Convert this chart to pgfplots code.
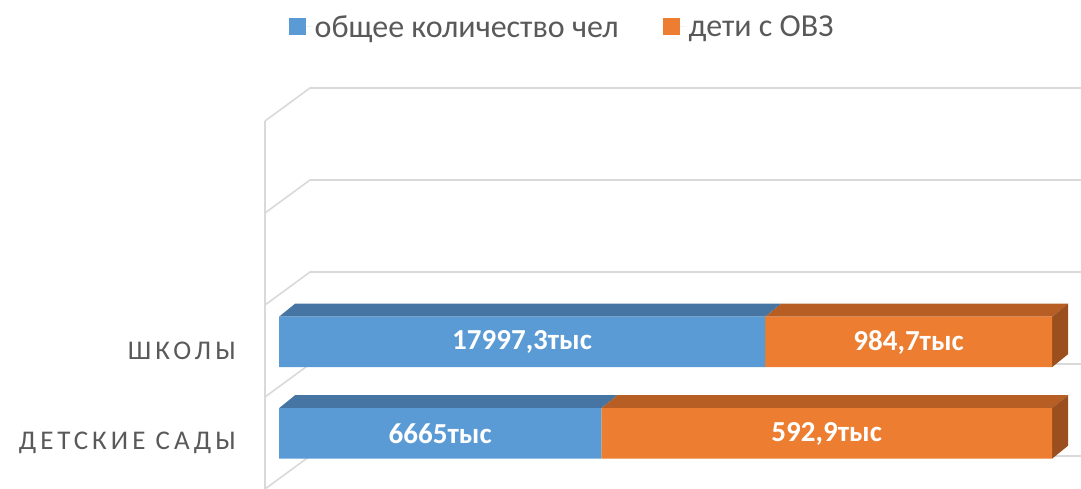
\documentclass[border=0pt]{standalone}
\usepackage{fontspec}
\setmainfont{Carlito}
\newfontfamily\spaced[LetterSpace=15]{Carlito}
\usepackage{pgfplots}
\pgfplotsset{compat=1.18}
\definecolor{cblue}{HTML}{5B9BD5}
\definecolor{corange}{HTML}{ED7D31}
\definecolor{cbluetop}{HTML}{4675A3}
\definecolor{corangetop}{HTML}{B65E23}
\definecolor{corangeside}{HTML}{9B4F1E}
\definecolor{gridc}{HTML}{D9D9D9}
\definecolor{textgray}{HTML}{595959}
\pgfplotsset{base/.style={scale only axis, width=1081bp, height=489bp,
  xmin=-36.093, xmax=103.75, ymin=-0.6066, ymax=4.7377,
  axis line style={draw=none}, xtick=\empty, ytick=\empty, clip=false,
  at={(0,0)}, anchor=south west}}
\begin{document}
\begin{tikzpicture}
% grid walls and 3D faces
\begin{axis}[base,
  ytick={-0.1038,0.9016}, yticklabels={ДЕТСКИЕ САДЫ, ШКОЛЫ},
  major tick length=0pt,
  yticklabel style={anchor=east, inner sep=0pt, xshift=236bp, text=textgray,
    font=\spaced\fontsize{27bp}{32bp}\selectfont}]
\addplot[gridc, line width=1.6bp] coordinates {(-1.811,-0.6066) (4.010,-0.2459) (103.75,-0.2459)};
\addplot[gridc, line width=1.6bp] coordinates {(-1.811,0.3989) (4.010,0.7596) (103.75,0.7596)};
\addplot[gridc, line width=1.6bp] coordinates {(-1.811,1.4044) (4.010,1.7650) (103.75,1.7650)};
\addplot[gridc, line width=1.6bp] coordinates {(-1.811,2.4098) (4.010,2.7705) (103.75,2.7705)};
\addplot[gridc, line width=1.6bp] coordinates {(-1.811,3.4153) (4.010,3.7760) (103.75,3.7760)};
\addplot[gridc, line width=1.6bp] coordinates {(-1.811,-0.6066) (-1.811,3.4153)};
% top faces, schools
\addplot[fill=cbluetop, draw=none] coordinates {(0,1.276) (62.9,1.276) (64.97,1.418) (2.07,1.418)} --cycle;
\addplot[fill=corangetop, draw=none] coordinates {(62.9,1.276) (100,1.276) (102.07,1.418) (64.97,1.418)} --cycle;
\addplot[fill=corangeside, draw=none] coordinates {(100,0.724) (100,1.276) (102.07,1.418) (102.07,0.866)} --cycle;
% top faces, kindergartens
\addplot[fill=cbluetop, draw=none] coordinates {(0,0.276) (41.7,0.276) (43.77,0.418) (2.07,0.418)} --cycle;
\addplot[fill=corangetop, draw=none] coordinates {(41.7,0.276) (100,0.276) (102.07,0.418) (43.77,0.418)} --cycle;
\addplot[fill=corangeside, draw=none] coordinates {(100,-0.276) (100,0.276) (102.07,0.418) (102.07,-0.134)} --cycle;
\end{axis}
% front faces of the stacked bars
\begin{axis}[base, xbar stacked, bar width=50.5bp,
  legend columns=2,
  legend image code/.code={\fill[#1] (0bp,-8.5bp) rectangle (17bp,8.5bp);
    \path (0bp,0bp) -- (24bp,0bp);},
  legend style={at={(0.520,0.945)}, anchor=center, draw=none, fill=none,
    font=\fontsize{32bp}{36bp}\selectfont, text=textgray,
    /tikz/every even column/.append style={column sep=42bp}}]
\addplot[fill=cblue, draw=none] coordinates {(41.7,0) (62.9,1)};
\addplot[fill=corange, draw=none] coordinates {(58.3,0) (37.1,1)};
\legend{общее количество чел, дети с ОВЗ}
\end{axis}
% data labels
\begin{axis}[base]
\addplot[draw=none, mark=none, nodes near coords, point meta=explicit symbolic,
  every node near coord/.style={anchor=center, text=white,
    font=\bfseries\fontsize{29bp}{32bp}\selectfont}]
  coordinates {(31.45,1) [17997,3тыс] (81.45,1) [984,7тыс] (20.85,0) [6665тыс] (70.85,0) [592,9тыс]};
\end{axis}
\pgfresetboundingbox
\path[use as bounding box] (0,0) rectangle (1081bp,489bp);
\end{tikzpicture}
\end{document}
